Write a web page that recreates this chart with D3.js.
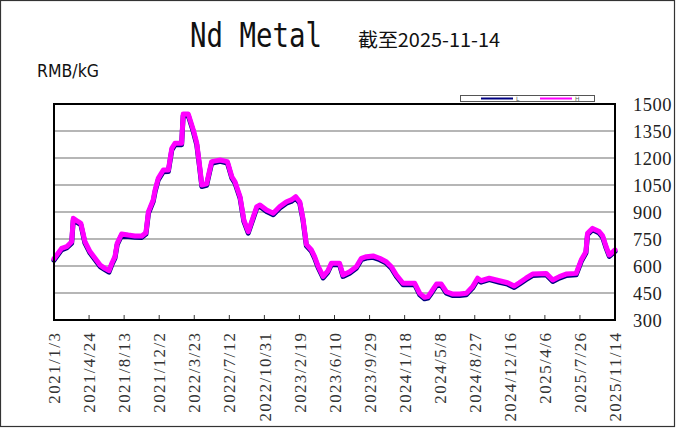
<!DOCTYPE html>
<html>
<head>
<meta charset="utf-8">
<script src="https://cdn.jsdelivr.net/npm/d3@7"></script>
<style>
  html, body { margin: 0; padding: 0; background: #fff; }
  svg { display: block; }
</style>
</head>
<body>
<svg id="chart" width="676" height="428"></svg>
<script>
const titleText = "Nd Metal";
const subtitleText = "截至2025-11-14";
const unitText = "RMB/kG";
const seriesNames = ["L", "H"];

const dates = ["2021-01-03","2021-01-27","2021-02-12","2021-02-28","2021-03-05","2021-03-21","2021-03-29","2021-04-11","2021-04-27","2021-05-13","2021-05-29","2021-06-13","2021-06-26","2021-07-05","2021-07-15","2021-07-22","2021-08-05","2021-08-26","2021-09-16","2021-10-08","2021-10-21","2021-10-29","2021-11-13","2021-11-19","2021-11-29","2021-12-15","2021-12-31","2022-01-11","2022-01-21","2022-02-11","2022-02-16","2022-03-04","2022-03-20","2022-03-31","2022-04-08","2022-04-16","2022-05-01","2022-05-17","2022-06-13","2022-07-06","2022-07-20","2022-07-30","2022-08-15","2022-08-27","2022-09-10","2022-09-26","2022-10-07","2022-10-17","2022-11-07","2022-11-28","2022-12-19","2023-01-09","2023-01-24","2023-02-07","2023-02-20","2023-03-02","2023-03-13","2023-03-29","2023-04-08","2023-04-19","2023-05-05","2023-05-20","2023-05-31","2023-06-26","2023-07-07","2023-07-28","2023-08-18","2023-09-03","2023-09-19","2023-10-10","2023-10-31","2023-11-21","2023-12-07","2023-12-23","2024-01-13","2024-02-19","2024-03-06","2024-03-21","2024-04-01","2024-04-12","2024-04-28","2024-05-13","2024-05-29","2024-06-19","2024-07-10","2024-07-31","2024-08-20","2024-09-05","2024-09-16","2024-10-12","2024-11-13","2024-12-09","2024-12-30","2025-01-15","2025-02-05","2025-02-26","2025-04-10","2025-05-01","2025-05-22","2025-06-12","2025-07-14","2025-07-30","2025-08-14","2025-08-19","2025-09-04","2025-09-25","2025-10-06","2025-10-17","2025-10-27","2025-11-14"];

const hValues = [640,698,707,735,865,846,837,735,680,643,605,587,574,615,652,726,778,772,767,767,785,902,967,1022,1087,1133,1133,1254,1282,1282,1444,1444,1356,1282,1170,1050,1056,1180,1189,1180,1096,1068,985,856,791,874,930,939,911,893,930,957,967,985,957,865,720,689,652,600,542,573,615,615,550,568,596,643,652,656,643,624,596,550,504,504,448,426,430,457,500,500,457,444,444,448,485,532,518,532,518,507,489,507,532,555,559,522,541,555,559,633,680,782,809,791,767,707,661,689];

const lValues = [632,690,700,727,855,838,829,727,672,635,597,580,566,607,644,718,770,764,760,759,777,893,958,1013,1078,1124,1125,1245,1273,1274,1435,1436,1347,1273,1161,1042,1048,1171,1181,1172,1088,1060,977,848,783,866,922,931,903,885,922,949,959,977,949,857,712,681,644,592,534,565,607,607,542,560,588,635,644,648,635,616,588,542,496,496,440,418,422,449,492,492,449,436,436,440,477,524,510,524,510,499,481,499,524,547,551,514,533,547,551,625,672,774,801,783,759,699,653,681];

const xTickLabels = ["2021/1/3","2021/4/24","2021/8/13","2021/12/2","2022/3/23","2022/7/12","2022/10/31","2023/2/19","2023/6/10","2023/9/29","2024/1/18","2024/5/8","2024/8/27","2024/12/16","2025/4/6","2025/7/26","2025/11/14"];
const yTicks = [300,450,600,750,900,1050,1200,1350,1500];

(function () {
const svg = d3.select("#chart");
const pL = 54, pR = 615, pT = 104, pB = 320;

const parseD = d3.utcParse("%Y-%m-%d");
const parseT = d3.utcParse("%Y/%m/%d");
const tickDates = xTickLabels.map(parseT);

const x = d3.scaleUtc()
  .domain([tickDates[0], tickDates[tickDates.length - 1]])
  .range([pL, pR]);
const y = d3.scaleLinear().domain([300, 1500]).range([pB, pT]);

// outer border
svg.append("rect").attr("x", 0.5).attr("y", 0.5).attr("width", 674).attr("height", 426)
  .attr("fill", "#fff").attr("stroke", "#333").attr("stroke-width", 1.2);

// title
svg.append("text").attr("x", 190).attr("y", 47)
  .attr("font-family", "'DejaVu Sans Mono', monospace").attr("font-size", 33)
  .attr("textLength", 132).attr("lengthAdjust", "spacingAndGlyphs")
  .attr("fill", "#111").text(titleText);
svg.append("text").attr("x", 358).attr("y", 47)
  .attr("font-family", "'Noto Sans CJK JP', sans-serif").attr("font-size", 19)
  .attr("textLength", 142).attr("lengthAdjust", "spacingAndGlyphs")
  .attr("fill", "#111").text(subtitleText);
svg.append("text").attr("x", 37).attr("y", 77)
  .attr("font-family", "'DejaVu Sans', sans-serif").attr("font-size", 18)
  .attr("textLength", 62).attr("lengthAdjust", "spacingAndGlyphs")
  .attr("fill", "#111").text(unitText);

// grid
svg.append("g").selectAll("line").data(yTicks.filter(v => v > 300 && v < 1500)).join("line")
  .attr("x1", pL).attr("x2", pR)
  .attr("y1", d => y(d)).attr("y2", d => y(d))
  .attr("stroke", "#6e6e6e").attr("stroke-width", 1.2);

// y labels on right
svg.append("g").selectAll("text").data(yTicks).join("text")
  .attr("x", 633).attr("y", d => y(d))
  .attr("dy", "0.36em")
  .attr("font-family", "'Liberation Serif', serif").attr("font-size", 18.5)
  .attr("textLength", d => String(d).length * 9.6).attr("lengthAdjust", "spacing")
  .attr("fill", "#222").text(d => d);

// x axis ticks (inner)
svg.append("g").selectAll("line").data(tickDates).join("line")
  .attr("x1", d => x(d)).attr("x2", d => x(d))
  .attr("y1", pB).attr("y2", pB - 5)
  .attr("stroke", "#333").attr("stroke-width", 1);

// x labels rotated
svg.append("g").selectAll("text").data(xTickLabels).join("text")
  .attr("transform", (d, i) => `translate(${x(tickDates[i])},333) rotate(-90)`)
  .attr("text-anchor", "end").attr("dy", "0.36em")
  .attr("font-family", "'Liberation Serif', serif").attr("font-size", 17)
  .attr("textLength", d => d.length * 8.85).attr("lengthAdjust", "spacing")
  .attr("fill", "#333").text(d => d);

// lines
const data = dates.map((d, i) => ({ date: parseD(d), h: hValues[i], l: lValues[i] }));
const lineL = d3.line().x(d => x(d.date)).y(d => y(d.l)).curve(d3.curveLinear);
const lineH = d3.line().x(d => x(d.date)).y(d => y(d.h)).curve(d3.curveLinear);
svg.append("path").datum(data).attr("d", lineL)
  .attr("fill", "none").attr("stroke", "#000080").attr("stroke-width", 5)
  .attr("stroke-linejoin", "round").attr("stroke-linecap", "round");
svg.append("path").datum(data).attr("d", lineH)
  .attr("fill", "none").attr("stroke", "#ff00ff").attr("stroke-width", 5)
  .attr("stroke-linejoin", "round").attr("stroke-linecap", "round");

// plot frame
svg.append("rect").attr("x", pL).attr("y", pT).attr("width", pR - pL).attr("height", pB - pT)
  .attr("fill", "none").attr("stroke", "#000").attr("stroke-width", 2);

// legend
const lg = svg.append("g");
lg.append("rect").attr("x", 460.5).attr("y", 95.5).attr("width", 134).attr("height", 6)
  .attr("fill", "#fff").attr("stroke", "#555").attr("stroke-width", 1);
const legendColors = ["#000080", "#ff00ff"];
seriesNames.forEach((n, i) => {
  const x0 = 481 + i * 59;
  lg.append("line").attr("x1", x0).attr("x2", x0 + 32).attr("y1", 98.5).attr("y2", 98.5)
    .attr("stroke", legendColors[i]).attr("stroke-width", 2);
  lg.append("text").attr("x", x0 + 35).attr("y", 101).attr("font-size", 6)
    .attr("font-family", "'DejaVu Sans', sans-serif").attr("fill", "#555").text(n);
});
})();
</script>
</body>
</html>
